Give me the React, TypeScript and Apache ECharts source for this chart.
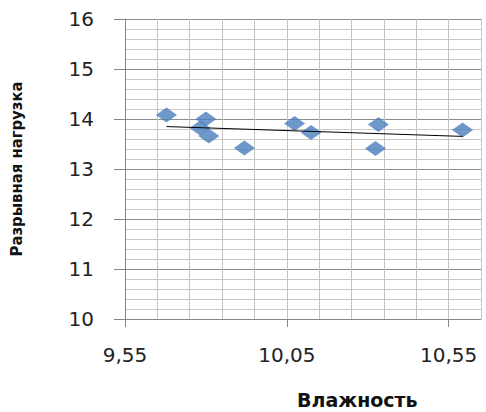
import React, { useEffect, useRef } from "react";
import * as echarts from "echarts";

// Data
const moisture = [9.678, 9.8, 9.782, 9.809, 9.919, 10.074, 10.125, 10.333, 10.324, 10.593];
const load = [14.08, 14.0, 13.82, 13.66, 13.42, 13.91, 13.73, 13.89, 13.41, 13.78];
const X_ORIGIN = 9.55;
const X_SPAN = 1.1;
const xTickValues = [9.55, 10.05, 10.55];
const yMin = 10;
const yMax = 16;

function regression(xs: number[], ys: number[]) {
  const n = xs.length;
  const mx = xs.reduce((a, b) => a + b, 0) / n;
  const my = ys.reduce((a, b) => a + b, 0) / n;
  let sxy = 0;
  let sxx = 0;
  for (let i = 0; i < n; i++) {
    sxy += (xs[i] - mx) * (ys[i] - my);
    sxx += (xs[i] - mx) * (xs[i] - mx);
  }
  const b = sxy / sxx;
  return { a: my - b * mx, b };
}

export default function App() {
  const ref = useRef<HTMLDivElement>(null);
  useEffect(() => {
    if (!ref.current) return;
    document.body.style.margin = "0";
    const chart = echarts.init(ref.current, undefined, { renderer: "svg" });
    const { a, b } = regression(moisture, load);
    const xLo = Math.min(...moisture);
    const xHi = Math.max(...moisture);
    const points = moisture.map((x, i) => [x - X_ORIGIN, load[i]]);
    const trend = [
      [xLo - X_ORIGIN, a + b * xLo],
      [xHi - X_ORIGIN, a + b * xHi],
    ];
    const tickOffsets = xTickValues.map((v) => Math.round((v - X_ORIGIN) * 100) / 100);
    chart.setOption({
      animation: false,
      backgroundColor: "#ffffff",
      grid: { left: 122, right: 5, top: 19, bottom: 93 },
      xAxis: [
        {
          type: "value",
          min: 0,
          max: X_SPAN,
          interval: 0.1,
          axisLine: { show: false },
          axisTick: { show: false },
          axisLabel: { show: false },
          splitLine: { show: true, lineStyle: { color: "#c4c4c4", width: 1 } },
        },
        {
          type: "value",
          position: "bottom",
          min: 0,
          max: X_SPAN,
          interval: 0.5,
          axisLine: { show: true, lineStyle: { color: "#868686", width: 1 } },
          axisTick: {
            show: true,
            length: 8,
            customValues: tickOffsets,
            lineStyle: { color: "#868686" },
          },
          axisLabel: {
            show: true,
            customValues: tickOffsets,
            margin: 26,
            fontSize: 20,
            fontFamily: "DejaVu Sans",
            color: "#222222",
            formatter: (v: number) => (v + X_ORIGIN).toFixed(2).replace(".", ","),
          },
          splitLine: { show: false },
        },
      ],
      yAxis: {
        type: "value",
        min: yMin,
        max: yMax,
        interval: 1,
        name: "Разрывная нагрузка",
        nameLocation: "middle",
        nameRotate: 90,
        nameGap: 100,
        nameTextStyle: {
          fontFamily: "'Liberation Sans Narrow', 'DejaVu Sans Condensed', 'Liberation Sans', sans-serif",
          fontWeight: "bold",
          fontSize: 16.5,
          color: "#111111",
        },
        axisLine: { show: true, lineStyle: { color: "#868686", width: 1 } },
        axisTick: { show: true, length: 11, lineStyle: { color: "#868686" } },
        axisLabel: {
          margin: 31,
          fontSize: 20,
          fontFamily: "DejaVu Sans",
          color: "#222222",
        },
        splitLine: { show: true, lineStyle: { color: "#8c8c8c", width: 1 } },
        minorTick: { show: false, splitNumber: 5 },
        minorSplitLine: { show: true, lineStyle: { color: "#c8c8c8", width: 1 } },
      },
      graphic: [
        {
          type: "text",
          left: 359 - 62,
          top: 390,
          style: {
            text: "Влажность",
            fontFamily: "DejaVu Sans",
            fontWeight: "bold",
            fontSize: 19,
            fill: "#111111",
          },
        },
      ],
      series: [
        {
          type: "scatter",
          xAxisIndex: 0,
          data: points,
          symbol: "diamond",
          symbolSize: [21, 15],
          itemStyle: { color: "#4a7ebb" },
          z: 3,
        },
        {
          type: "line",
          xAxisIndex: 0,
          data: trend,
          showSymbol: false,
          symbol: "none",
          lineStyle: { color: "#000000", width: 1 },
          z: 4,
        },
      ],
    });
    return () => chart.dispose();
  }, []);
  return <div ref={ref} style={{ width: 486, height: 412 }} />;
}
